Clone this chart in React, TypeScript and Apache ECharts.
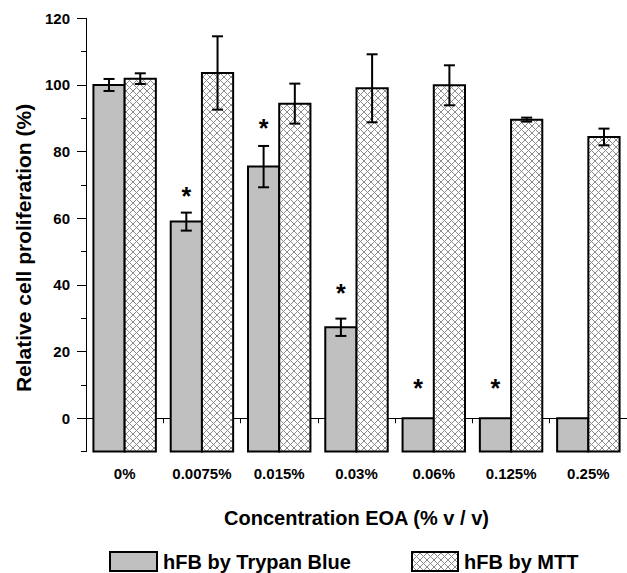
import React, { useEffect, useRef } from 'react';
import * as echarts from 'echarts';

const categories = ['0%', '0.0075%', '0.015%', '0.03%', '0.06%', '0.125%', '0.25%'];
const seriesNames = ['hFB by Trypan Blue', 'hFB by MTT'];
const trypanValues = [100, 59, 75.5, 27.3, 0, 0, 0];
const trypanErrors = [1.8, 2.7, 6.2, 2.6, 0, 0, 0];
const mttValues = [101.9, 103.6, 94.4, 99, 99.9, 89.6, 84.4];
const mttErrors = [1.6, 11, 6, 10.2, 6, 0.6, 2.5];
const asteriskValues: (number | null)[] = [null, 68.5, 89, 39.5, 11, 11, null];
const yMajorTicks = [0, 20, 40, 60, 80, 100, 120];
const yMin = -10;
const yMax = 120;

const FONT = "'Liberation Sans', Arial, sans-serif";

function makeHatch() {
  const c = document.createElement('canvas');
  c.width = 7;
  c.height = 7;
  const ctx = c.getContext('2d')!;
  ctx.fillStyle = '#ffffff';
  ctx.fillRect(0, 0, 7, 7);
  ctx.fillStyle = '#8c8c8c';
  for (let i = 0; i < 7; i++) {
    ctx.fillRect(i, i, 1, 1);
    ctx.fillRect(6 - i, i, 1, 1);
  }
  return { image: c, repeat: 'repeat', imageWidth: 7, imageHeight: 7 } as any;
}

export default function App() {
  const ref = useRef<HTMLDivElement>(null);
  useEffect(() => {
    if (!ref.current) return;
    const chart = echarts.init(ref.current, undefined, { renderer: 'svg' });
    const hatch = makeHatch();
    const gray = '#c0c0c0';
    const BAR_FRAC = 0.404;

    const makeRender = (side: number, fill: any) => (params: any, api: any) => {
      const idx = api.value(0);
      const val = api.value(1);
      const err = api.value(2);
      const band = api.size([1, 0])[0];
      const bw = band * BAR_FRAC;
      const c = api.coord([idx, val]);
      const base = api.coord([idx, yMin]);
      const x0 = side === 0 ? c[0] - bw : c[0];
      const cx = x0 + bw / 2;
      const children: any[] = [
        {
          type: 'rect',
          shape: { x: x0, y: c[1], width: bw, height: base[1] - c[1] },
          style: { fill, stroke: '#000', lineWidth: 2 },
        },
      ];
      if (err > 0) {
        const hi = api.coord([idx, val + err])[1];
        const lo = api.coord([idx, val - err])[1];
        const cap = 5.5;
        const st = { stroke: '#000', lineWidth: 2 };
        children.push(
          { type: 'line', shape: { x1: cx, y1: hi, x2: cx, y2: lo }, style: st },
          { type: 'line', shape: { x1: cx - cap, y1: hi, x2: cx + cap, y2: hi }, style: st },
          { type: 'line', shape: { x1: cx - cap, y1: lo, x2: cx + cap, y2: lo }, style: st }
        );
      }
      return { type: 'group', children };
    };

    const trypanData = categories.map((_, i) => [i, trypanValues[i], trypanErrors[i]]);
    const mttData = categories.map((_, i) => [i, mttValues[i], mttErrors[i]]);
    const starData = asteriskValues
      .map((v, i) => (v == null ? null : [i, v]))
      .filter((d) => d != null);

    const axisText = { fontFamily: FONT, fontWeight: 'bold' as const, fontSize: 15, color: '#000' };

    chart.setOption({
      animation: false,
      backgroundColor: '#ffffff',
      grid: { left: 86, top: 18.3, width: 546, height: 433.3, containLabel: false },
      xAxis: [
        {
          type: 'category',
          data: categories,
          position: 'bottom',
          axisLine: { show: true, lineStyle: { color: '#000', width: 1 } },
          axisTick: { show: true, alignWithLabel: true, interval: 0, length: 8, lineStyle: { color: '#000', width: 1 } },
          axisLabel: { ...axisText, interval: 0, margin: 14 },
          name: 'Concentration EOA (% v / v)',
          nameLocation: 'middle',
          nameGap: 56,
          nameTextStyle: { fontFamily: FONT, fontWeight: 'bold', fontSize: 20, color: '#000' },
          splitLine: { show: false },
        },
        {
          type: 'category',
          data: categories,
          position: 'bottom',
          axisLine: { show: false },
          axisTick: { show: true, interval: 0, length: 5, lineStyle: { color: '#000', width: 1 } },
          axisLabel: { show: false },
          splitLine: { show: false },
        },
      ],
      yAxis: [
        {
          type: 'value',
          min: yMin,
          max: yMax,
          interval: 10,
          position: 'left',
          axisLine: { show: true, lineStyle: { color: '#000', width: 1 } },
          axisTick: { show: true, length: 5, lineStyle: { color: '#000', width: 1 } },
          axisLabel: { show: false },
          splitLine: { show: false },
          name: 'Relative cell proliferation (%)',
          nameLocation: 'middle',
          nameGap: 52,
          nameTextStyle: {
            fontFamily: FONT,
            fontWeight: 'bold',
            fontSize: 21,
            color: '#000',
            padding: [0, 26, 0, 0],
          },
        },
        {
          type: 'value',
          min: yMin,
          max: yMax,
          position: 'left',
          axisLine: { show: false },
          axisTick: { show: true, length: 9, customValues: yMajorTicks, lineStyle: { color: '#000', width: 1 } },
          axisLabel: { ...axisText, margin: 16, customValues: yMajorTicks },
          splitLine: { show: false },
        },
      ],
      series: [
        {
          type: 'custom',
          name: seriesNames[0],
          renderItem: makeRender(0, gray),
          data: trypanData,
          encode: { x: 0, y: 1 },
          xAxisIndex: 0,
          yAxisIndex: 0,
          z: 2,
        },
        {
          type: 'custom',
          name: seriesNames[1],
          renderItem: makeRender(1, hatch),
          data: mttData,
          encode: { x: 0, y: 1 },
          xAxisIndex: 0,
          yAxisIndex: 0,
          z: 2,
        },
        {
          type: 'custom',
          name: 'significance',
          renderItem: (params: any, api: any) => {
            const idx = api.value(0);
            const v = api.value(1);
            const band = api.size([1, 0])[0];
            const bw = band * BAR_FRAC;
            const c = api.coord([idx, v]);
            return {
              type: 'text',
              x: c[0] - bw / 2,
              y: c[1] + 6,
              style: {
                text: '*',
                fontFamily: FONT,
                fontWeight: 'bold',
                fontSize: 25,
                fill: '#000',
                align: 'center',
                verticalAlign: 'middle',
              },
            };
          },
          data: starData,
          encode: { x: 0, y: 1 },
          z: 3,
        },
      ],
      graphic: [
        {
          type: 'rect',
          shape: { x: 110, y: 552, width: 47, height: 19 },
          style: { fill: gray, stroke: '#000', lineWidth: 2 },
        },
        {
          type: 'text',
          x: 163,
          y: 562,
          style: {
            text: seriesNames[0],
            fontFamily: FONT,
            fontWeight: 'bold',
            fontSize: 20,
            fill: '#000',
            verticalAlign: 'middle',
          },
        },
        {
          type: 'rect',
          shape: { x: 412, y: 552, width: 46, height: 19 },
          style: { fill: hatch, stroke: '#000', lineWidth: 2 },
        },
        {
          type: 'text',
          x: 464,
          y: 562,
          style: {
            text: seriesNames[1],
            fontFamily: FONT,
            fontWeight: 'bold',
            fontSize: 20,
            fill: '#000',
            verticalAlign: 'middle',
          },
        },
      ],
    });
    return () => chart.dispose();
  }, []);
  return (
    <div
      ref={ref}
      style={{ position: 'fixed', left: 0, top: 0, width: 627, height: 573, background: '#fff' }}
    />
  );
}
